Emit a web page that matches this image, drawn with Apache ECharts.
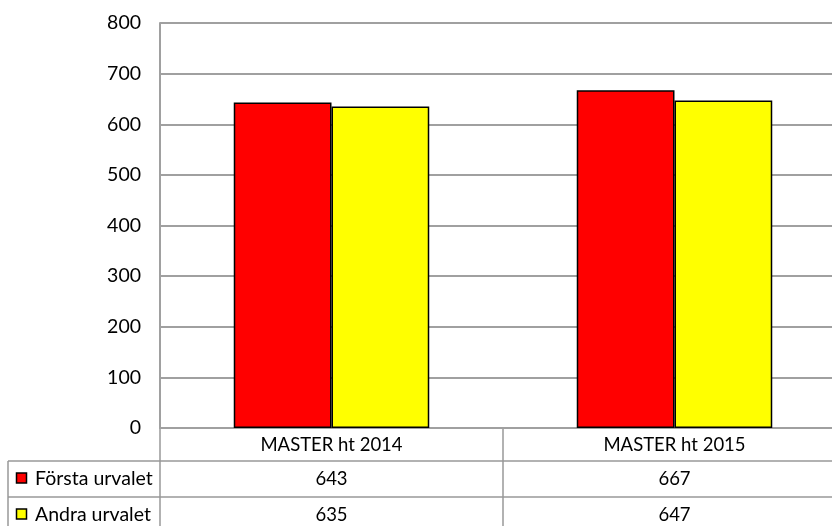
<!DOCTYPE html>
<html>
<head>
<meta charset="utf-8">
<script src="https://cdn.jsdelivr.net/npm/echarts@6/dist/echarts.min.js"></script>
<style>
html,body{margin:0;padding:0;background:#fff;}
#c{width:832px;height:526px;}
</style>
</head>
<body>
<div id="c"></div>
<script>
var categories = ['MASTER ht 2014', 'MASTER ht 2015'];
var seriesNames = ['Första urvalet', 'Andra urvalet'];
var forsta = [643, 667];
var andra = [635, 647];
var colors = ['#ff0000', '#ffff00'];

var FONT = 'Lato';
var GRID_COLOR = '#a0a0a0';
var chart = echarts.init(document.getElementById('c'), null, {renderer: 'canvas'});
chart.setOption({
  animation: false,
  grid: {left: 160, width: 686, top: 23, bottom: 98, containLabel: false, outerBoundsMode: 'none'},
  xAxis: {
    type: 'category', data: categories,
    axisLine: {show: true, lineStyle: {color: GRID_COLOR, width: 2}},
    axisTick: {show: false}, axisLabel: {show: false},
    splitLine: {show: false}
  },
  yAxis: {
    type: 'value', min: 0, max: 800, interval: 100,
    axisLine: {show: true, lineStyle: {color: GRID_COLOR, width: 2}},
    axisTick: {show: false},
    axisLabel: {color: '#000', fontFamily: FONT, fontSize: 19.5, margin: 19},
    splitLine: {show: true, lineStyle: {color: GRID_COLOR, width: 2}}
  },
  series: [
    {name: seriesNames[0], type: 'bar', data: forsta, barGap: '0%', barCategoryGap: '43%',
     itemStyle: {color: colors[0], borderColor: '#000', borderWidth: 1.5}},
    {name: seriesNames[1], type: 'bar', data: andra, barGap: '0%', barCategoryGap: '43%',
     itemStyle: {color: colors[1], borderColor: '#000', borderWidth: 1.5}}
  ]
});

// Data table under the plot
var c0 = chart.convertToPixel({xAxisIndex: 0}, 0);
var c1 = chart.convertToPixel({xAxisIndex: 0}, 1);
var band = c1 - c0;
var axisY = chart.convertToPixel({yAxisIndex: 0}, 0);
var rowH = [33, 36, 36];
var y0 = axisY, y1 = y0 + rowH[0], y2 = y1 + rowH[1], y3 = y2 + rowH[2];
var tableLeft = 8;
var lineStyle = {stroke: '#999', lineWidth: 1.5};
var els = [];
function hline(x1, x2, y) { els.push({type: 'line', shape: {x1: x1, y1: y, x2: x2, y2: y}, style: lineStyle, silent: true}); }
function vline(x, ya, yb) { els.push({type: 'line', shape: {x1: x, y1: ya, x2: x, y2: yb}, style: lineStyle, silent: true}); }
var xStart = c0 - band / 2;
var xEnd = c0 + band * (categories.length - 0.5);
hline(tableLeft, xEnd, y1);
hline(tableLeft, xEnd, y2);
vline(tableLeft, y1, y3);
vline(xStart, y0, y3);
for (var i = 1; i < categories.length; i++) vline(c0 + band * (i - 0.5), y0, y3);
function txt(x, y, s, align, size) {
  els.push({type: 'text', x: x, y: y, silent: true,
    style: {text: s, fill: '#000', font: (size || 18.5) + 'px ' + FONT, textAlign: align || 'center', textVerticalAlign: 'middle'}});
}
categories.forEach(function (cat, i) { txt(c0 + band * i, y0 + 17, cat); });
var rows = [forsta, andra];
rows.forEach(function (vals, r) {
  var ya = r === 0 ? y1 : y2;
  var ym = ya + 18;
  els.push({type: 'rect', shape: {x: 16.5, y: ym - 6, width: 10, height: 10}, silent: true,
    style: {fill: colors[r], stroke: '#000', lineWidth: 1.5}});
  txt(35, ym, seriesNames[r], 'left', 19.5);
  vals.forEach(function (v, i) { txt(c0 + band * i, ym, String(v)); });
});
chart.setOption({graphic: {elements: els}});
</script>
</body>
</html>
